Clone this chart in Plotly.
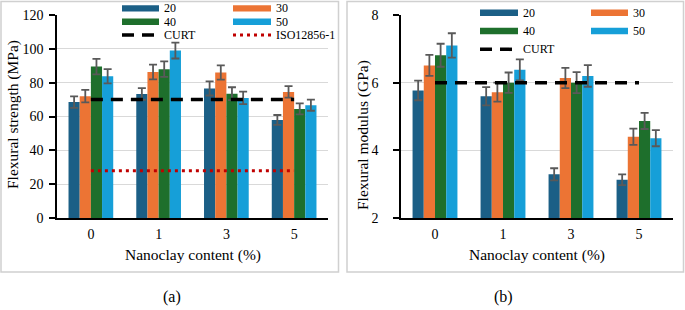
import plotly.graph_objects as go

W, H = 685, 310

categories = ["0", "1", "3", "5"]
series_names = ["20", "30", "40", "50"]

# Flexural strength (MPa)
strength_20 = [68.5, 73.3, 76.6, 58.0]
strength_30 = [72.0, 86.3, 86.0, 74.5]
strength_40 = [89.5, 88.0, 73.5, 64.5]
strength_50 = [83.8, 99.0, 71.0, 66.7]
strength_err_20 = [3.4, 3.5, 4.2, 2.9]
strength_err_30 = [3.7, 4.4, 4.2, 3.4]
strength_err_40 = [4.6, 4.6, 3.8, 3.3]
strength_err_50 = [4.2, 4.7, 3.7, 3.3]
strength_curt = [70, 70, 70, 70]
strength_iso = [28, 28, 28, 28]

# Flexural modulus (GPa)
modulus_20 = [5.77, 5.60, 3.29, 3.13]
modulus_30 = [6.51, 5.72, 6.14, 4.40]
modulus_40 = [6.81, 6.00, 6.00, 4.87]
modulus_50 = [7.10, 6.38, 6.20, 4.36]
modulus_err_20 = [0.29, 0.27, 0.18, 0.16]
modulus_err_30 = [0.31, 0.28, 0.30, 0.24]
modulus_err_40 = [0.34, 0.30, 0.31, 0.24]
modulus_err_50 = [0.36, 0.31, 0.32, 0.24]
modulus_curt = [6, 6, 6, 6]

colors = ["#1B5F86", "#EC7434", "#1E6F2C", "#169FD8"]
FONT = "Times New Roman, Liberation Serif, serif"
ERR_COLOR = "#595959"

fig = go.Figure()

strength_vals = [strength_20, strength_30, strength_40, strength_50]
strength_errs = [strength_err_20, strength_err_30, strength_err_40, strength_err_50]
modulus_vals = [modulus_20, modulus_30, modulus_40, modulus_50]
modulus_errs = [modulus_err_20, modulus_err_30, modulus_err_40, modulus_err_50]

for name, vals, errs, c in zip(series_names, strength_vals, strength_errs, colors):
    fig.add_trace(go.Bar(
        x=categories, y=vals, name=name, marker=dict(color=c, line=dict(width=0)),
        error_y=dict(type="data", array=errs, color=ERR_COLOR, thickness=1.8, width=4),
        xaxis="x", yaxis="y", showlegend=False))

for name, vals, errs, c in zip(series_names, modulus_vals, modulus_errs, colors):
    fig.add_trace(go.Bar(
        x=categories, y=vals, name=name, marker=dict(color=c, line=dict(width=0)),
        error_y=dict(type="data", array=errs, color=ERR_COLOR, thickness=1.8, width=4),
        xaxis="x2", yaxis="y2", showlegend=False))

CURT_DASH = "12px,8px"
ISO_DASH = "3px,4px"
fig.add_trace(go.Scatter(x=categories, y=strength_curt, mode="lines", name="CURT",
                         line=dict(color="black", width=3.5, dash=CURT_DASH),
                         xaxis="x", yaxis="y", showlegend=False))
fig.add_trace(go.Scatter(x=categories, y=strength_iso, mode="lines", name="ISO12856-1",
                         line=dict(color="#C00000", width=3, dash=ISO_DASH),
                         xaxis="x", yaxis="y", showlegend=False))
fig.add_trace(go.Scatter(x=categories, y=modulus_curt, mode="lines", name="CURT",
                         line=dict(color="black", width=3.5, dash=CURT_DASH),
                         xaxis="x2", yaxis="y2", showlegend=False))

ydom = [1 - 218 / H, 1 - 15 / H]
axis_common = dict(showline=True, linecolor="black", linewidth=1.5,
                   automargin=False,
                   tickfont=dict(family=FONT, size=14, color="black"))
fig.update_layout(
    width=W, height=H,
    margin=dict(l=0, r=0, t=0, b=0, pad=0, autoexpand=False),
    paper_bgcolor="white", plot_bgcolor="white",
    barmode="group", bargap=0.34, bargroupgap=0,
    font=dict(family=FONT, color="black"),
    xaxis=dict(domain=[57 / W, 328 / W], anchor="y", ticks="", showgrid=False,
               ticklabelstandoff=2, **axis_common),
    yaxis=dict(domain=ydom, anchor="x", range=[0, 120], dtick=20, ticks="outside",
               ticklen=6, tickwidth=1.5, tickcolor="black", ticklabelstandoff=3,
               showgrid=True, gridcolor="#D9D9D9", gridwidth=1, zeroline=False,
               **axis_common),
    xaxis2=dict(domain=[401 / W, 673 / W], anchor="y2", ticks="", showgrid=False,
                ticklabelstandoff=2, **axis_common),
    yaxis2=dict(domain=ydom, anchor="x2", range=[2, 8], dtick=2, ticks="outside",
                ticklen=6, tickwidth=1.5, tickcolor="black", ticklabelstandoff=12,
                showgrid=True, gridcolor="#D9D9D9", gridwidth=1, zeroline=False,
                **axis_common),
    showlegend=False,
)

shapes = []
annotations = []


def px(x):
    return x / W


def py(y):
    return 1 - y / H


# panel borders
for x0, x1 in [(1, 338.5), (347, 683.5)]:
    shapes.append(dict(type="rect", xref="paper", yref="paper",
                       x0=px(x0), x1=px(x1), y0=py(272), y1=py(1.5),
                       line=dict(color="#D0D0D0", width=1.5), fillcolor="rgba(0,0,0,0)",
                       layer="below"))

LEG_SIZE = 12


def legend_bar(x0, x1, y, color, text):
    shapes.append(dict(type="rect", xref="paper", yref="paper",
                       x0=px(x0), x1=px(x1), y0=py(y + 3.2), y1=py(y - 3.2),
                       line=dict(width=0), fillcolor=color))
    annotations.append(dict(xref="paper", yref="paper", x=px(x1 + 4), y=py(y),
                            xanchor="left", yanchor="middle", text=text, showarrow=False,
                            borderpad=0, font=dict(family=FONT, size=LEG_SIZE, color="black")))


def legend_line(x0, x1, y, color, width, dash, text):
    shapes.append(dict(type="line", xref="paper", yref="paper",
                       x0=px(x0), x1=px(x1), y0=py(y), y1=py(y),
                       line=dict(color=color, width=width, dash=dash)))
    annotations.append(dict(xref="paper", yref="paper", x=px(x1 + 4), y=py(y),
                            xanchor="left", yanchor="middle", text=text, showarrow=False,
                            borderpad=0, font=dict(family=FONT, size=LEG_SIZE, color="black")))


# left legend
lc1, lc2 = (122, 159), (233, 271)
lrows = [8.4, 21.7, 35.0]
legend_bar(*lc1, lrows[0], colors[0], series_names[0])
legend_bar(*lc2, lrows[0], colors[1], series_names[1])
legend_bar(*lc1, lrows[1], colors[2], series_names[2])
legend_bar(*lc2, lrows[1], colors[3], series_names[3])
legend_line(*lc1, lrows[2], "black", 3.5, CURT_DASH, "CURT")
legend_line(*lc2, lrows[2], "#C00000", 3, ISO_DASH, "ISO12856-1")

# right legend
rc1, rc2 = (480, 518), (591, 628)
rrows = [12.7, 31.0, 49.3]
legend_bar(*rc1, rrows[0], colors[0], series_names[0])
legend_bar(*rc2, rrows[0], colors[1], series_names[1])
legend_bar(*rc1, rrows[1], colors[2], series_names[2])
legend_bar(*rc2, rrows[1], colors[3], series_names[3])
legend_line(*rc1, rrows[2], "black", 3.5, CURT_DASH, "CURT")


def label(x, y, text, size=15.5, angle=0):
    annotations.append(dict(xref="paper", yref="paper", x=px(x), y=py(y), text=text,
                            xanchor="center", yanchor="middle", textangle=angle,
                            showarrow=False, font=dict(family=FONT, size=size, color="black")))


label(13, 115, "Flexural strength (MPa)", angle=-90)
label(363, 135, "Flexural modulus (GPa)", angle=-90)
label(192.5, 255, "Nanoclay content (%)")
label(537, 255, "Nanoclay content (%)")
label(172, 297, "(a)", size=16)
label(504, 297, "(b)", size=16)

fig.update_layout(shapes=shapes, annotations=annotations)
fig.write_html("out.html", config={"displayModeBar": False},
               post_script="document.body.style.margin='0px';")
